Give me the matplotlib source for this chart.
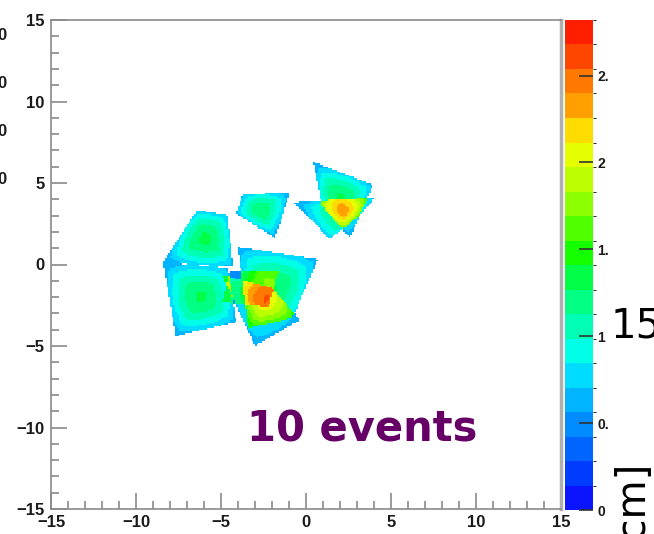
import numpy as np
import matplotlib
matplotlib.use("Agg")
import matplotlib.pyplot as plt
from matplotlib.colors import ListedColormap, BoundaryNorm
from matplotlib.ticker import MultipleLocator

# --- hit footprints in the x/y plane [cm]: corners of each event's cell cluster
footprints = [
    [(-6.41, 3.34), (-4.65, 3.04), (-4.29, -0.15), (-8.41, 0.15)],
    [(-8.41, 0.15), (-4.59, -0.21), (-4.12, -3.53), (-7.65, -4.39)],
    [(-3.71, 4.26), (-0.94, 4.45), (-1.82, 1.63), (-4.12, 3.16)],
    [(0.41, 6.29), (3.94, 4.88), (2.59, 1.63), (0.94, 3.59)],
    [(-0.76, 3.83), (4.53, 4.14), (3.18, 3.03), (1.71, 1.25)],
    [(-4.00, 1.07), (0.71, 0.33), (-0.82, -3.29), (-3.41, -3.90)],
    [(-4.94, -0.64), (-2.00, -1.44), (-0.35, -3.40), (-3.00, -5.00)],
    [(-4.50, -0.45), (-1.60, -0.40), (-2.20, -2.60), (-4.90, -2.30)],
]
peak_values = [1.32, 1.30, 1.25, 1.30, 1.22, 1.28, 0.95, 0.52]
edge_values = [0.62, 0.62, 0.62, 0.62, 0.60, 0.68, 0.58, 0.45]

n_events = 10
z_max = 2.82
cbar_ticks = [0, 0.5, 1.0, 1.5, 2.0, 2.5]
cbar_labels = ["0", "0.", "1", "1.", "2", "2."]
axis_ticks = [-15, -10, -5, 0, 5, 10, 15]

# 20-level rainbow palette, low to high
palette = [
    "#0a14ff", "#003cff", "#0064ff", "#008cff", "#00b4ff",
    "#00dcff", "#00ffe6", "#00ffb4", "#00ff82", "#00ff46",
    "#14ff00", "#50ff00", "#8cff00", "#beff00", "#e6ff00",
    "#ffdc00", "#ffa000", "#ff7800", "#ff4600", "#ff1e00",
]


def fill_footprint(xc, yc, corners, peak, edge):
    """Response of one event on the bin grid, falling from peak to edge."""
    v = np.asarray(corners, dtype=float)
    c = v.mean(axis=0)
    px, py = xc - c[0], yc - c[1]
    gauge = np.full(xc.shape, -np.inf)
    for i in range(len(v)):
        a, b = v[i], v[(i + 1) % len(v)]
        n = np.array([b[1] - a[1], a[0] - b[0]])
        d = np.dot(a - c, n)
        if d < 0:
            n, d = -n, -d
        gauge = np.maximum(gauge, (px * n[0] + py * n[1]) / d)
    rmax = np.sqrt(((v - c) ** 2).sum(axis=1)).max()
    radial = np.hypot(px, py) / (0.8 * rmax)
    t = np.clip(0.5 * gauge + 0.5 * radial, 0, 1)
    resp = edge + (peak - edge) * (1 - t ** 1.6)
    return np.where(gauge <= 1, resp, 0.0)


edges = np.linspace(-15, 15, 301)
centers = 0.5 * (edges[:-1] + edges[1:])
XC, YC = np.meshgrid(centers, centers)
hist = np.zeros_like(XC)
for corners, pk, ed in zip(footprints, peak_values, edge_values):
    hist += fill_footprint(XC, YC, corners, pk, ed)
hist = np.ma.masked_less_equal(hist, 0)

W, H = 654, 534
fig = plt.figure(figsize=(W / 100, H / 100), dpi=100)
ax = fig.add_axes([51 / W, (H - 509) / H, 510 / W, 489 / H])
cax = fig.add_axes([565 / W, (H - 510) / H, 28 / W, 490 / H])

cmap = ListedColormap(palette)
norm = BoundaryNorm(np.linspace(0, z_max, len(palette) + 1), cmap.N)
mesh = ax.pcolormesh(edges, edges, hist, cmap=cmap, norm=norm)

ax.set_xlim(-15, 15)
ax.set_ylim(-15, 15)
ax.set_xticks(axis_ticks)
ax.set_yticks(axis_ticks)
ax.xaxis.set_minor_locator(MultipleLocator(1))
ax.yaxis.set_minor_locator(MultipleLocator(1))
ax.tick_params(which="both", direction="in", top=False, right=False,
               color="#8a8a8a", width=1.2)
ax.tick_params(which="major", length=11.5)
ax.tick_params(which="minor", length=5.5)
ax.tick_params(axis="y", pad=4.5)
ax.tick_params(axis="x", pad=4)
for lab in ax.get_xticklabels() + ax.get_yticklabels():
    lab.set_fontfamily("Liberation Sans")
    lab.set_fontweight("bold")
    lab.set_fontsize(12)
    lab.set_color("#1a1a1a")
for side in ["left", "bottom", "top"]:
    ax.spines[side].set_color("#8a8a8a")
    ax.spines[side].set_linewidth(1.2)
ax.spines["right"].set_color("#b0b0b0")
ax.spines["right"].set_linewidth(2.5)

ax.text(-3.45, -10.85, f"{n_events} events",
        color="#660066", fontsize=30, fontweight="bold",
        family="DejaVu Sans", va="baseline", ha="left")

cb = fig.colorbar(mesh, cax=cax, ticks=cbar_ticks)
cb.outline.set_visible(False)
cb.ax.set_yticklabels(cbar_labels)
cb.ax.tick_params(direction="in", length=10, width=1.2, color="#333333", pad=3)
for lab in cb.ax.get_yticklabels():
    lab.set_fontfamily("Liberation Sans")
    lab.set_fontweight("bold")
    lab.set_fontsize(10)
    lab.set_color("#1a1a1a")

# pieces of the neighbouring pad that spill into the canvas
for yp in [35, 84, 131, 180]:
    fig.text(7 / W, 1 - yp / H, "0", fontsize=12, fontweight="bold",
             family="Liberation Sans", ha="right", va="center", color="#1a1a1a")
fig.text(611 / W, 1 - 326 / H, "15", fontsize=29, family="DejaVu Sans",
         ha="left", va="center", color="black")
fig.text(655 / W, 1 - 464 / H, "y [cm]", fontsize=29, family="DejaVu Sans",
         rotation=90, ha="right", va="top", color="black")

fig.savefig("out.png", dpi=100)
